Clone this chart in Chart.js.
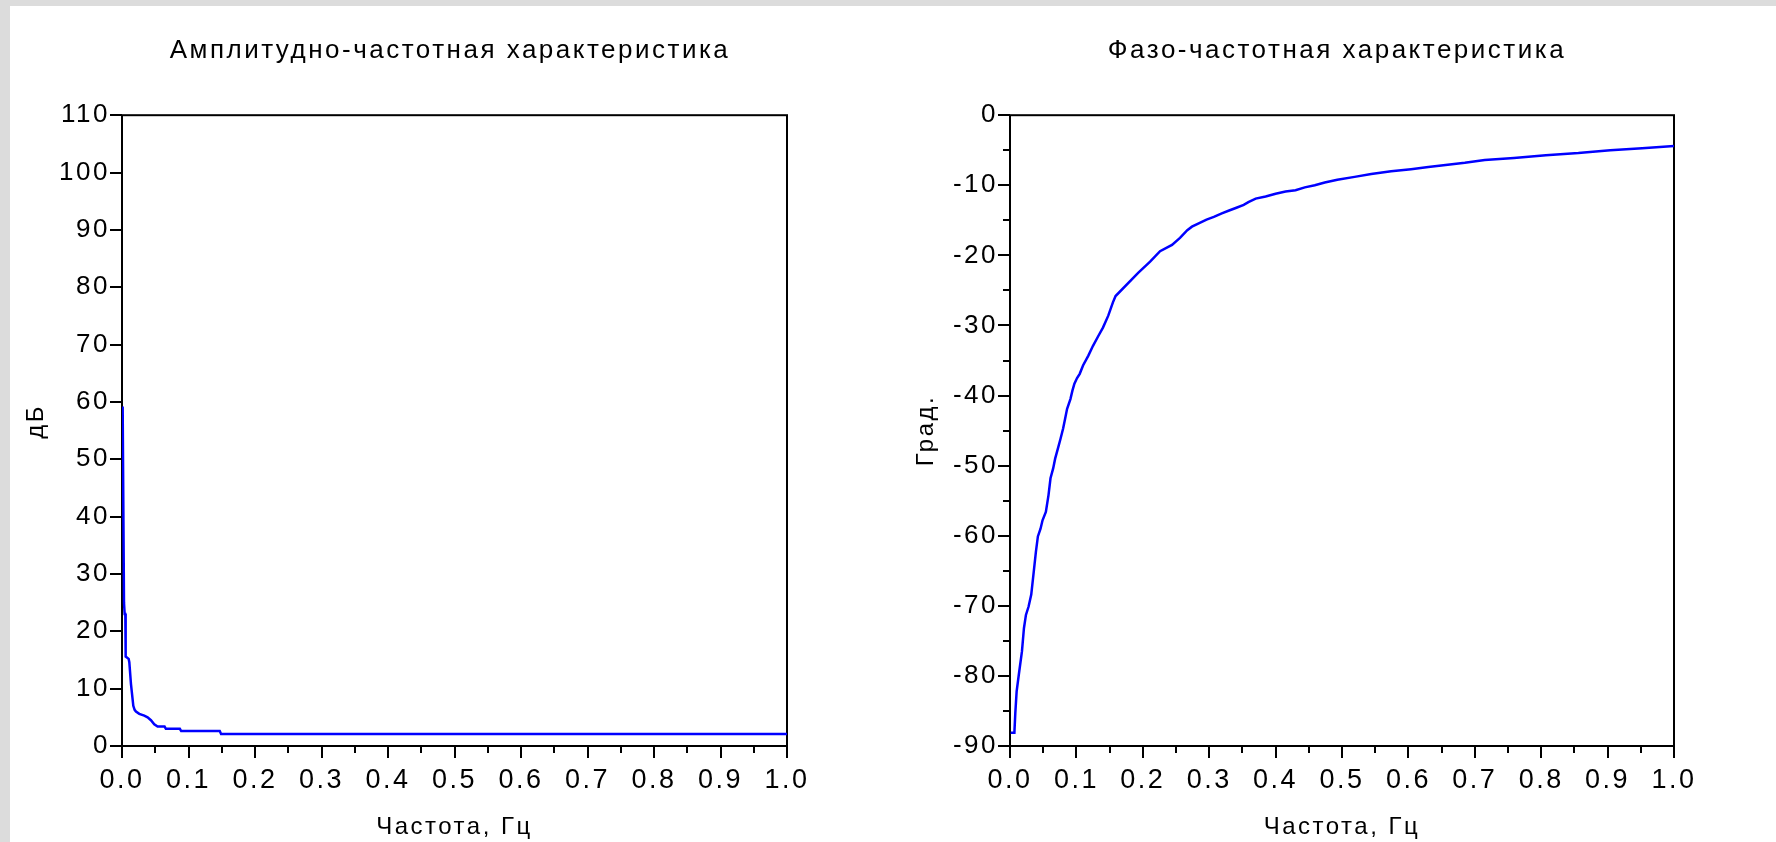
<!DOCTYPE html>
<html lang="ru">
<head>
<meta charset="UTF-8">
<title>АЧХ и ФЧХ</title>
<script src="https://cdn.jsdelivr.net/npm/chart.js"></script>
<style>
    html, body {
        margin: 0;
        padding: 0;
        width: 1776px;
        height: 842px;
        overflow: hidden;
        background: #dcdcdc;
    }
    .sheet {
        position: absolute;
        left: 10px;
        top: 6px;
        right: 0;
        bottom: 0;
        background: #fff;
    }
    .plot {
        position: absolute;
        top: 0;
        height: 842px;
    }
    #ampBox { left: 6px; width: 888px; }
    #phaseBox { left: 898px; width: 878px; }
</style>
</head>
<body>
<div class="sheet"></div>
<div class="plot" id="ampBox"><canvas id="ampChart"></canvas></div>
<div class="plot" id="phaseBox"><canvas id="phaseChart"></canvas></div>

<script>
// АЧХ: частота (Гц) и усиление (дБ)
const ampFreq = [0.001, 0.003, 0.004, 0.005, 0.0055, 0.010, 0.011, 0.0135, 0.017, 0.019,
    0.021, 0.026, 0.0335, 0.0385, 0.0435, 0.0485, 0.0535, 0.064, 0.066, 0.087,
    0.089, 0.147, 0.149, 1.0];
const ampDb = [59.2, 25, 23, 23, 15.6, 15.2, 14.6, 10.8, 7.0, 6.3,
    6.0, 5.6, 5.3, 5.0, 4.5, 3.8, 3.4, 3.4, 3.0, 3.0,
    2.6, 2.6, 2.1, 2.1];

// ФЧХ: частота (Гц) и фаза (град.)
const phaseFreq = [0.001, 0.0066, 0.008, 0.010, 0.014, 0.018, 0.021, 0.024, 0.028, 0.032,
    0.035, 0.039, 0.042, 0.046, 0.049, 0.054, 0.058, 0.061, 0.065, 0.068,
    0.072, 0.076, 0.080, 0.083, 0.086, 0.091, 0.094, 0.097, 0.101, 0.105,
    0.110, 0.118, 0.125, 0.133, 0.140, 0.148, 0.155, 0.159, 0.193, 0.211,
    0.226, 0.244, 0.256, 0.267, 0.274, 0.285, 0.296, 0.307, 0.319, 0.330,
    0.341, 0.352, 0.359, 0.370, 0.385, 0.400, 0.415, 0.430, 0.444, 0.459,
    0.474, 0.493, 0.519, 0.544, 0.574, 0.604, 0.630, 0.656, 0.685, 0.715,
    0.759, 0.807, 0.856, 0.904, 0.952, 1.000];
const phaseDeg = [-88.1, -88.1, -85.3, -82.2, -79.3, -76.5, -73.2, -71.3, -70.1, -68.4,
    -65.8, -62.3, -60.1, -59.0, -57.8, -56.6, -54.2, -51.8, -50.4, -49.0,
    -47.6, -46.2, -44.7, -43.3, -41.9, -40.5, -39.3, -38.3, -37.5, -36.9,
    -35.7, -34.3, -32.9, -31.5, -30.3, -28.6, -26.7, -25.8, -22.5, -20.9,
    -19.4, -18.5, -17.5, -16.4, -15.9, -15.4, -14.9, -14.5, -14.0, -13.6,
    -13.2, -12.8, -12.4, -11.9, -11.6, -11.2, -10.9, -10.7, -10.3, -10.0,
    -9.6, -9.2, -8.8, -8.4, -8.0, -7.7, -7.4, -7.1, -6.8, -6.4,
    -6.1, -5.7, -5.4, -5.0, -4.7, -4.4];

const face = "'Liberation Sans', Arial, sans-serif";

function isMultiple(v, step) {
    const k = v / step;
    return Math.abs(k - Math.round(k)) < 1e-6;
}

// рамка графика и засечки: длинные у подписанных делений, короткие у промежуточных
const frame = {
    id: 'frame',
    beforeDraw(chart) {
        chart.ctx.letterSpacing = '2.5px';
    },
    beforeDatasetsDraw(chart, args, opts) {
        const {ctx, chartArea: a, scales: {x, y}} = chart;
        ctx.save();
        ctx.strokeStyle = '#000';
        ctx.lineWidth = 2;
        ctx.strokeRect(a.left, a.top, a.right - a.left, a.bottom - a.top);
        ctx.beginPath();
        x.ticks.forEach(t => {
            const px = Math.round(x.getPixelForValue(t.value));
            const len = isMultiple(t.value, 0.1) ? 12 : 7;
            ctx.moveTo(px, a.bottom);
            ctx.lineTo(px, a.bottom + len);
        });
        y.ticks.forEach(t => {
            const py = Math.round(y.getPixelForValue(t.value));
            const len = isMultiple(t.value, opts.yMajor) ? 12 : 7;
            ctx.moveTo(a.left, py);
            ctx.lineTo(a.left - len, py);
        });
        ctx.stroke();
        ctx.restore();
    }
};

function makeChart(id, freq, vals, cfg) {
    const points = freq.map((f, i) => ({x: f, y: vals[i]}));
    return new Chart(document.getElementById(id), {
        type: 'line',
        data: {
            datasets: [{
                data: points,
                borderColor: '#0000ff',
                borderWidth: 2.5,
                pointRadius: 0,
                tension: 0,
                fill: false
            }]
        },
        options: {
            responsive: true,
            maintainAspectRatio: false,
            animation: false,
            layout: {padding: 0},
            plugins: {
                legend: {display: false},
                tooltip: {enabled: false},
                title: {
                    display: true,
                    text: cfg.title,
                    color: '#000',
                    font: {family: face, size: 26, weight: 'normal'},
                    padding: {top: 35, bottom: 49}
                },
                frame: {yMajor: cfg.yMajor}
            },
            scales: {
                x: {
                    type: 'linear',
                    min: 0,
                    max: 1,
                    grid: {display: false, drawTicks: false},
                    border: {display: false},
                    ticks: {
                        stepSize: 0.05,
                        autoSkip: false,
                        maxRotation: 0,
                        padding: 18,
                        color: '#000',
                        font: {family: face, size: 27},
                        callback: v => isMultiple(v, 0.1) ? v.toFixed(1) : ''
                    },
                    title: {
                        display: true,
                        text: 'Частота, Гц',
                        color: '#000',
                        font: {family: face, size: 24},
                        padding: {top: 0, bottom: 0}
                    },
                    afterFit: s => { s.height = 96; }
                },
                y: {
                    type: 'linear',
                    min: cfg.yMin,
                    max: cfg.yMax,
                    grid: {display: false, drawTicks: false},
                    border: {display: false},
                    ticks: {
                        stepSize: cfg.yStep,
                        autoSkip: false,
                        padding: 12,
                        color: '#000',
                        font: {family: face, size: 26},
                        callback: v => isMultiple(v, 10) ? String(v) : ''
                    },
                    title: {
                        display: true,
                        text: cfg.yTitle,
                        color: '#000',
                        font: {family: face, size: 24},
                        padding: {top: cfg.yTitlePad, bottom: 0}
                    },
                    afterFit: s => { s.width = cfg.leftWidth; }
                },
                // пустое поле справа, чтобы заголовок стоял по центру листа
                spare: {
                    type: 'linear',
                    position: 'right',
                    grid: {display: false, drawTicks: false},
                    border: {display: false},
                    ticks: {display: false},
                    afterFit: s => { s.width = cfg.rightWidth; }
                }
            }
        },
        plugins: [frame]
    });
}

makeChart('ampChart', ampFreq, ampDb, {
    title: 'Амплитудно-частотная характеристика',
    yTitle: '  дБ',
    yMin: 0, yMax: 110, yStep: 10, yMajor: 10,
    yTitlePad: 16,
    leftWidth: 116,
    rightWidth: 107
});

makeChart('phaseChart', phaseFreq, phaseDeg, {
    title: 'Фазо-частотная характеристика',
    yTitle: 'Град.',
    yMin: -90, yMax: 0, yStep: 5, yMajor: 10,
    yTitlePad: 14,
    leftWidth: 112,
    rightWidth: 102
});
</script>
</body>
</html>
